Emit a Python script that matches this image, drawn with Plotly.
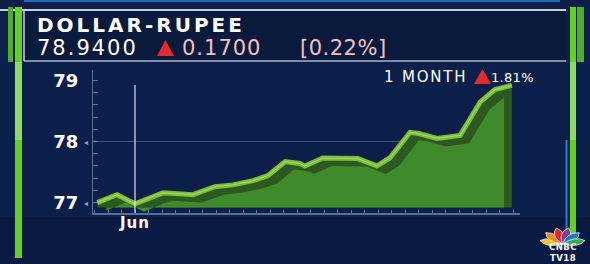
import math
import plotly.graph_objects as go
from datetime import datetime, timedelta

# ---- data ----
dates = ["2022-05-29 05:00", "2022-05-30 16:00", "2022-06-01 00:00", "2022-06-02 12:00",
         "2022-06-03 02:00", "2022-06-05 07:00", "2022-06-06 22:00", "2022-06-08 06:00",
         "2022-06-09 18:00", "2022-06-10 20:00", "2022-06-12 03:00", "2022-06-13 05:00",
         "2022-06-13 14:00", "2022-06-14 22:00", "2022-06-17 12:00", "2022-06-18 22:00",
         "2022-06-19 21:00", "2022-06-21 09:00", "2022-06-22 00:00", "2022-06-23 09:00",
         "2022-06-25 02:00", "2022-06-26 14:00", "2022-06-27 16:00", "2022-06-28 22:00"]
values = [77.00, 77.13, 76.98, 77.12, 77.16, 77.13, 77.26, 77.29, 77.36, 77.44,
          77.67, 77.64, 77.60, 77.73, 77.72, 77.60, 77.73, 78.15, 78.13, 78.05,
          78.10, 78.65, 78.85, 78.92]
y_ticks = [77, 78, 79]
y_ticklabels = ["77", "78", "79"]
x_tick = ["2022-06-01"]
x_ticklabel = ["Jun"]
title = "DOLLAR-RUPEE"
last_price = "78.9400"
change = "0.1700"
change_pct = "[0.22%]"
month_label = "1 MONTH"
month_pct = "1.81%"
logo_lines = ["CNBC", "TV18"]

W, H = 590, 264
L, R, T, B = 93, 70, 70, 51
PW, PH = W - L - R, H - T - B


def PX(x):
    return (x - L) / PW


def PY(y):
    return (H - B - y) / PH


base = 76.92
fmt = "%Y-%m-%d %H:%M"
dts = [datetime.strptime(d, fmt) for d in dates]
back_x = [d + timedelta(hours=16) for d in dts][:-1]
back_y = [v - 0.13 for v in values][:-1]

fig = go.Figure()
# dark shadow band (front profile)
fig.add_trace(go.Scatter(x=[dts[0], dts[-1]], y=[base, base], mode="lines",
                         line=dict(width=0), showlegend=False, hoverinfo="skip"))
fig.add_trace(go.Scatter(x=dts, y=values, mode="lines", line=dict(width=0),
                         fill="tonexty", fillcolor="#2c5a1e", showlegend=False))
# main body of the area
fig.add_trace(go.Scatter(x=[back_x[0], back_x[-1]], y=[base, base], mode="lines",
                         line=dict(width=0), showlegend=False, hoverinfo="skip"))
fig.add_trace(go.Scatter(x=back_x, y=back_y, mode="lines", line=dict(width=0),
                         fill="tonexty", fillcolor="#3f8b2b", showlegend=False))
# bright edge line
fig.add_trace(go.Scatter(x=dts, y=values, mode="lines",
                         line=dict(color="#7abd3a", width=5), showlegend=False))
fig.add_trace(go.Scatter(x=dts, y=values, mode="lines",
                         line=dict(color="#a2d958", width=1.2), showlegend=False))

shapes = []
# darker lower background
shapes.append(dict(type="rect", xref="paper", yref="paper", x0=PX(0), x1=PX(W),
                   y0=PY(H), y1=PY(217), fillcolor="#0a1a42", line=dict(width=0), layer="below"))
# header box
shapes.append(dict(type="rect", xref="paper", yref="paper", x0=PX(24), x1=PX(566),
                   y0=PY(61), y1=PY(10), fillcolor="#0a1a3c", line=dict(width=0), layer="below"))
shapes.append(dict(type="line", xref="paper", yref="paper", x0=PX(0), x1=PX(566),
                   y0=PY(10), y1=PY(10), line=dict(color="#c9d0dc", width=2)))
shapes.append(dict(type="line", xref="paper", yref="paper", x0=PX(24), x1=PX(566),
                   y0=PY(61), y1=PY(61), line=dict(color="#aab4c8", width=1.5)))
shapes.append(dict(type="line", xref="paper", yref="paper", x0=PX(24), x1=PX(24),
                   y0=PY(61), y1=PY(10), line=dict(color="#c9d0dc", width=1.5)))
shapes.append(dict(type="line", xref="paper", yref="paper", x0=PX(24), x1=PX(560),
                   y0=PY(1), y1=PY(1), line=dict(color="#1e6bb8", width=2)))
# left green bars
shapes.append(dict(type="rect", xref="paper", yref="paper", x0=PX(8), x1=PX(13),
                   y0=PY(62), y1=PY(7), fillcolor="#4fae2c", line=dict(width=0)))
shapes.append(dict(type="rect", xref="paper", yref="paper", x0=PX(15), x1=PX(22),
                   y0=PY(258), y1=PY(7), fillcolor="#63d11f", line=dict(width=0)))
shapes.append(dict(type="rect", xref="paper", yref="paper", x0=PX(15), x1=PX(22),
                   y0=PY(140), y1=PY(62), fillcolor="#8fdc63", line=dict(width=0)))
# right bars
shapes.append(dict(type="rect", xref="paper", yref="paper", x0=PX(565.5), x1=PX(567.5),
                   y0=PY(232), y1=PY(140), fillcolor="#2a7bd0", line=dict(width=0)))
shapes.append(dict(type="rect", xref="paper", yref="paper", x0=PX(570), x1=PX(576),
                   y0=PY(234), y1=PY(7), fillcolor="#63d11f", line=dict(width=0)))
shapes.append(dict(type="rect", xref="paper", yref="paper", x0=PX(570), x1=PX(576),
                   y0=PY(140), y1=PY(62), fillcolor="#8fdc63", line=dict(width=0)))
shapes.append(dict(type="rect", xref="paper", yref="paper", x0=PX(577), x1=PX(584),
                   y0=PY(62), y1=PY(7), fillcolor="#4fae2c", line=dict(width=0)))
# gridline at 78
shapes.append(dict(type="line", xref="paper", yref="y", x0=0, x1=PX(502),
                   y0=78, y1=78, line=dict(color="rgba(170,185,215,0.35)", width=1), layer="below"))
# vertical line at Jun
shapes.append(dict(type="line", xref="x", yref="paper", x0=x_tick[0], x1=x_tick[0],
                   y0=0, y1=PY(85), line=dict(color="rgba(235,240,250,0.85)", width=1.3)))


# red triangles
def tri(x0, y0, w, h, color):
    return dict(type="path", xref="paper", yref="paper",
                path=f"M {PX(x0)} {PY(y0)} L {PX(x0 + w)} {PY(y0)} L {PX(x0 + w / 2)} {PY(y0 - h)} Z",
                fillcolor=color, line=dict(width=0))


shapes.append(tri(157, 56, 17, 16, "#e12a2e"))
shapes.append(tri(474, 84, 17, 15, "#e12a2e"))
# peacock logo (fan of feathers)
peacock = ["#f6c21b", "#f08a1c", "#e0242f", "#7d3f98", "#1d7ac8", "#34a853"]
cx, cy = 562.5, 244
for i, c in enumerate(peacock):
    ang = math.radians(168 - i * 31.2)
    r1, wdt, sq = 23, 9, 0.72
    ex, ey = cx + r1 * math.cos(ang), cy - r1 * math.sin(ang) * sq
    nx, ny = -math.sin(ang), -math.cos(ang) * sq
    mx, my = cx + 0.62 * r1 * math.cos(ang), cy - 0.62 * r1 * math.sin(ang) * sq
    lx, ly = mx + wdt * nx, my + wdt * ny
    rx, ry = mx - wdt * nx, my - wdt * ny
    path = (f"M {PX(cx)} {PY(cy)} Q {PX(lx)} {PY(ly)} {PX(ex)} {PY(ey)} "
            f"Q {PX(rx)} {PY(ry)} {PX(cx)} {PY(cy)} Z")
    shapes.append(dict(type="path", xref="paper", yref="paper", path=path,
                       fillcolor=c, line=dict(color="white", width=0.7)))


def sp(txt, px):
    return f"<span style='letter-spacing:{px}px'>{txt}</span>"


annotations = [
    dict(text=f"<b>{sp(title, 3)}</b>", x=PX(35), y=PY(25.5), xref="paper", yref="paper",
         xanchor="left", yanchor="middle", showarrow=False,
         font=dict(family="DejaVu Sans", size=20, color="white")),
    dict(text=sp(last_price, 2), x=PX(35), y=PY(48), xref="paper", yref="paper",
         xanchor="left", yanchor="middle", showarrow=False,
         font=dict(family="DejaVu Sans", size=21, color="white")),
    dict(text=sp(change, 1), x=PX(180), y=PY(48), xref="paper", yref="paper",
         xanchor="left", yanchor="middle", showarrow=False,
         font=dict(family="DejaVu Sans", size=21, color="#f2c0c0")),
    dict(text=sp(change_pct, 0.5), x=PX(298), y=PY(48), xref="paper", yref="paper",
         xanchor="left", yanchor="middle", showarrow=False,
         font=dict(family="DejaVu Sans", size=21, color="#f2c0c0")),
    dict(text=sp(month_label, 1.8), x=PX(382), y=PY(77),
         xref="paper", yref="paper", xanchor="left", yanchor="middle", showarrow=False,
         font=dict(family="DejaVu Sans", size=15, color="white")),
    dict(text=sp(month_pct, 0.3), x=PX(536), y=PY(77),
         xref="paper", yref="paper", xanchor="right", yanchor="middle", showarrow=False,
         font=dict(family="DejaVu Sans", size=13, color="white")),
    dict(text="<br>".join(f"<b>{sp(t, 0.5)}</b>" for t in logo_lines), x=PX(563), y=PY(252),
         xref="paper", yref="paper", xanchor="center", yanchor="middle", showarrow=False,
         font=dict(family="DejaVu Sans", size=8.5, color="white")),
]
for v in [77, 78]:
    annotations.append(dict(text="◂", x=PX(86), y=v, xref="paper", yref="y", xanchor="center",
                            yanchor="middle", showarrow=False,
                            font=dict(size=8, color="rgba(190,200,220,0.8)")))

fig.update_layout(
    width=W, height=H, margin=dict(l=L, r=R, t=T, b=B),
    paper_bgcolor="#0c1f4b", plot_bgcolor="rgba(0,0,0,0)",
    shapes=shapes, annotations=annotations, showlegend=False,
    xaxis=dict(type="date",
               range=[datetime(2022, 6, 1) + timedelta(days=(L - 135) / 13.5),
                      datetime(2022, 6, 1) + timedelta(days=(W - R - 135) / 13.5)],
               tickvals=x_tick, ticktext=[f"<b>{sp(t, 1)}</b>" for t in x_ticklabel], showgrid=False,
               zeroline=False, tickfont=dict(family="DejaVu Sans", size=15, color="white"),
               ticks="", ticklabelstandoff=-5, showline=True,
               linecolor="rgba(120,140,180,0.7)", linewidth=2,
               minor=dict(dtick=86400000, ticks="inside", ticklen=3, tickcolor="rgba(160,175,205,0.6)")),
    yaxis=dict(range=[76.83, 79.17], tickvals=y_ticks, ticktext=[f"<b>{t}</b>" for t in y_ticklabels],
               showgrid=False, zeroline=False, showline=True, linecolor="rgba(150,165,200,0.6)",
               linewidth=1, tickfont=dict(family="DejaVu Sans", size=18, color="white"), ticks="",
               ticklabelstandoff=10,
               minor=dict(dtick=0.2, ticks="inside", ticklen=5, tickcolor="rgba(150,165,200,0.6)")),
)

fig.write_html("out.html")
